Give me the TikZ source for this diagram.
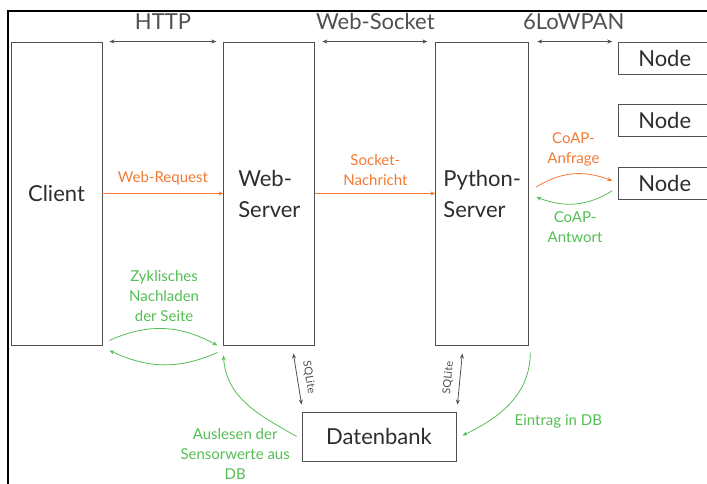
\documentclass[tikz,border=0pt]{standalone}
\usepackage{fontspec}
\setmainfont{Lato}
\usetikzlibrary{arrows.meta, bending, positioning}
\definecolor{orangeC}{RGB}{242,122,52}
\definecolor{greenC}{RGB}{84,190,84}
\definecolor{boxgray}{RGB}{80,80,80}
\definecolor{txtgray}{RGB}{45,45,45}

\begin{document}
\begin{tikzpicture}[
        x=1pt, y=1pt,
        font=\fontsize{22}{31}\selectfont,
        text=txtgray,
        punkt/.style = {rectangle, draw=boxgray, line width=0.9pt, inner sep=0pt},
        server/.style = {punkt, minimum width=91pt, minimum height=303pt, align=left},
        sensor/.style = {punkt, minimum width=92pt, minimum height=32pt},
        lbl/.style = {font=\fontsize{15}{20}\selectfont, align=center},
        sql/.style = {font=\fontsize{11}{13}\selectfont},
        pil/.style = {boxgray, line width=0.8pt, {Stealth[length=5pt,width=4pt]}-{Stealth[length=5pt,width=4pt]}},
        req/.style = {orangeC, line width=0.8pt, -{Stealth[length=5pt,width=4pt]}},
        ans/.style = {greenC, line width=0.8pt, -{Stealth[length=5pt,width=4pt]}}
        ]
        \useasboundingbox (0,0) rectangle (707,-484);
        \draw[black, line width=1.6pt] (8,-484) -- (8,-11) -- (707,-11);

        \node[server] (client) at (56.5,-193.5) {Client};
        \node[server] (web) [right=121pt of client] {Web-\\Server};
        \node[server, minimum width=93pt] (python) [right=120pt of web] {Python-\\Server};
        \node[sensor] (node1) [right=89pt of python.north east, anchor=north west] {Node};
        \node[sensor] (node2) [below=30pt of node1] {Node};
        \node[sensor] (node3) [below=30pt of node2] {Node};
        \node[punkt, minimum width=154pt, minimum height=49pt] (db) at (379,-436.5) {Datenbank};

        % protocols on top
        \draw[pil, shorten <=7pt, shorten >=7pt] (client.north east) -- node[above=8pt] {HTTP} (web.north west);
        \draw[pil, shorten <=7pt, shorten >=8pt] (web.north east) -- node[above=8pt] {Web-Socket} (python.north west);
        \draw[pil, shorten <=8pt, shorten >=6pt] (python.north east) -- node[above=8pt] {6LoWPAN} (python.north east -| node1.west);

        % requests
        \draw[req] (client) -- node[lbl, above=5pt] {Web-Request} (web);
        \draw[req] (web) -- node[lbl, above=4pt] {Socket-\\Nachricht} (python);
        \draw[req] ([shift={(7,6.5)}]python.east) to[bend left=27] node[lbl, above=4pt] {CoAP-\\Anfrage} ([shift={(-6,3)}]node3.west);
        \draw[ans] ([shift={(-6,-7)}]node3.west) to[bend left=27] node[lbl, below=4pt] {CoAP-\\Antwort} ([shift={(7,-3.5)}]python.east);

        % reload cycle
        \draw[ans] ([shift={(7,5)}]client.south east) to[bend left=27] node[lbl, above=3pt] {Zyklisches\\Nachladen\\der Seite} ([shift={(-6,0)}]web.south west);
        \draw[ans] ([shift={(-6,-7)}]web.south west) to[bend left=25] ([shift={(7,-5)}]client.south east);

        % database
        \draw[pil] ([shift={(-22,-8)}]web.south east) -- node[sql, midway, sloped, above=3pt] {SQLite} ([shift={(0,7)}]db.north west);
        \draw[pil] ([shift={(1,7)}]db.north east) -- node[sql, midway, sloped, above=3pt] {SQLite} ([shift={(27,-8)}]python.south west);
        \draw[ans] ([shift={(1,-7)}]python.south east) to[out=-90, in=25] node[lbl, pos=0.62, anchor=west, xshift=10pt, yshift=-9pt] {Eintrag in DB} ([shift={(6,1)}]db.east);
        \draw[ans] ([shift={(-5,0)}]db.west) to[out=150, in=-88] node[lbl, at start, anchor=north east, xshift=-3pt, yshift=12pt] {Auslesen der\\Sensorwerte aus\\DB} ([shift={(0,-10)}]web.south west);

      \end{tikzpicture}
\end{document}
